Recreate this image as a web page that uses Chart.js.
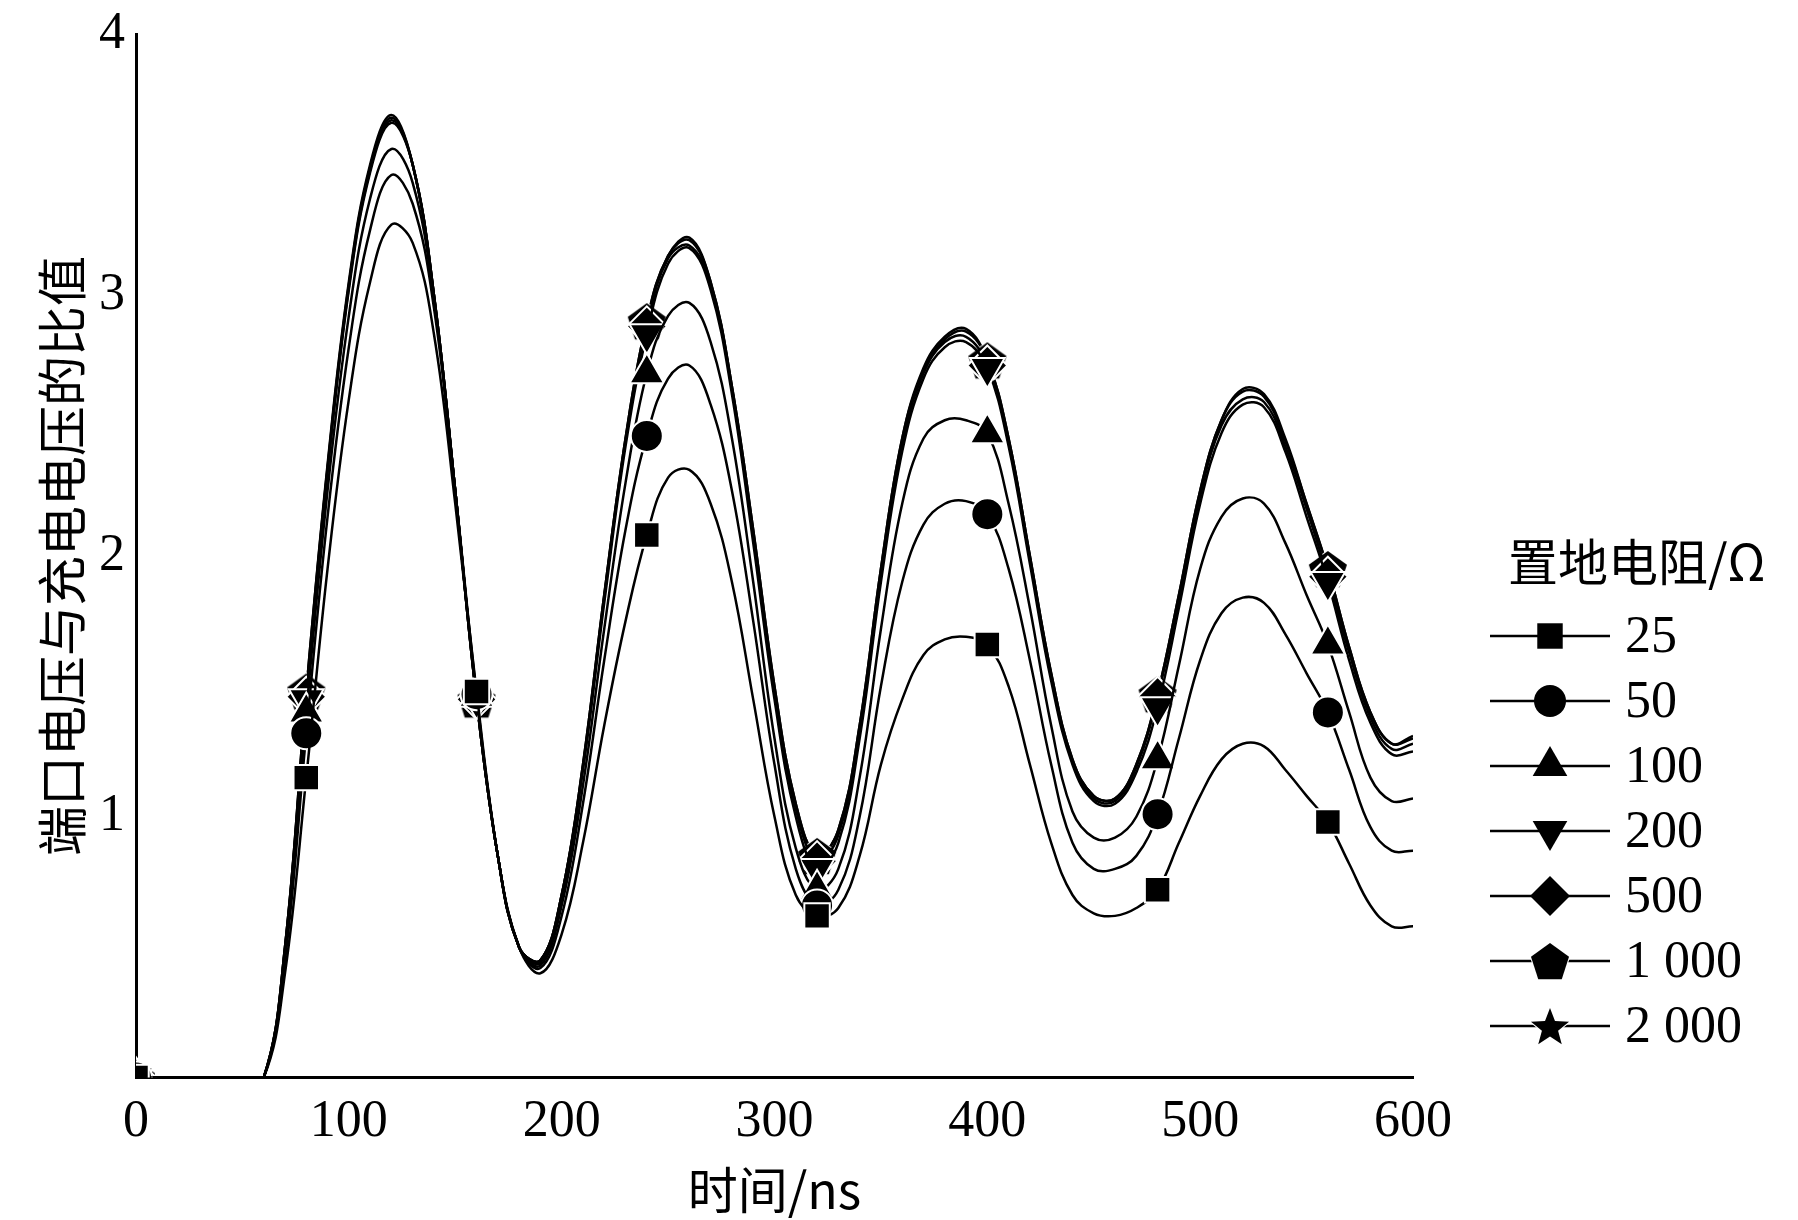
<!DOCTYPE html>
<html><head><meta charset="utf-8">
<script src="https://cdn.jsdelivr.net/npm/chart.js@4/dist/chart.umd.min.js"></script>
<style>html,body{margin:0;background:#fff}#wrap{width:1798px;height:1220px}</style>
</head><body><div id="wrap"><canvas id="c"></canvas></div>
<script>
const times = Array.from({ length: 61 }, (_, i) => i * 10);
const names = [`25`, `50`, `100`, `200`, `500`, `1 000`, `2 000`];

// ratio values every 10 ns, 0..600
const r25 = [0,0,0,0,0,0,0,0.4,1.15,1.95,2.6,3.05,3.27,3.2,2.85,2.2,1.48,0.85,0.5,0.4,0.55,0.9,1.35,1.75,2.08,2.3,2.33,2.2,1.9,1.45,1.0,0.7,0.62,0.65,0.85,1.2,1.45,1.62,1.68,1.69,1.66,1.5,1.2,0.9,0.7,0.63,0.62,0.65,0.72,0.9,1.08,1.22,1.28,1.27,1.18,1.08,0.98,0.82,0.66,0.58,0.58];
const r50 = [0,0,0,0,0,0,0,0.45,1.32,2.15,2.8,3.25,3.46,3.35,2.95,2.25,1.47,0.85,0.5,0.42,0.62,1.05,1.6,2.1,2.46,2.68,2.73,2.58,2.25,1.75,1.2,0.8,0.66,0.72,1.0,1.5,1.9,2.12,2.2,2.21,2.16,1.95,1.6,1.2,0.9,0.8,0.8,0.85,1.01,1.3,1.6,1.78,1.84,1.82,1.7,1.55,1.4,1.18,0.96,0.87,0.87];
const r100 = [0,0,0,0,0,0,0,0.47,1.4,2.25,2.92,3.37,3.56,3.43,2.98,2.25,1.46,0.85,0.5,0.43,0.66,1.12,1.72,2.28,2.7,2.92,2.97,2.82,2.45,1.9,1.3,0.88,0.72,0.8,1.15,1.72,2.2,2.45,2.52,2.52,2.47,2.2,1.8,1.35,1.02,0.92,0.92,1.0,1.22,1.58,1.95,2.15,2.22,2.2,2.05,1.85,1.66,1.4,1.15,1.06,1.07];
const r200 = [0,0,0,0,0,0,0,0.49,1.45,2.32,3.02,3.47,3.66,3.5,3.0,2.25,1.45,0.85,0.5,0.44,0.69,1.18,1.82,2.42,2.85,3.12,3.18,3.02,2.62,2.05,1.45,1.0,0.8,0.9,1.3,1.9,2.4,2.68,2.8,2.82,2.72,2.42,1.97,1.52,1.2,1.06,1.05,1.17,1.42,1.8,2.2,2.47,2.58,2.57,2.4,2.15,1.9,1.6,1.36,1.24,1.25];
const r500 = [0,0,0,0,0,0,0,0.5,1.46,2.33,3.03,3.48,3.67,3.5,3.0,2.25,1.45,0.85,0.5,0.45,0.7,1.19,1.84,2.44,2.88,3.14,3.19,3.04,2.64,2.08,1.48,1.03,0.83,0.93,1.33,1.93,2.43,2.7,2.82,2.84,2.73,2.44,1.99,1.54,1.21,1.07,1.06,1.19,1.46,1.83,2.23,2.5,2.6,2.59,2.42,2.18,1.92,1.63,1.38,1.26,1.28];
const r1000 = [0,0,0,0,0,0,0,0.5,1.48,2.34,3.04,3.49,3.68,3.5,3.0,2.25,1.45,0.85,0.5,0.45,0.7,1.2,1.85,2.45,2.9,3.15,3.21,3.05,2.65,2.1,1.5,1.05,0.85,0.95,1.35,1.95,2.45,2.71,2.83,2.86,2.75,2.45,2.0,1.55,1.22,1.08,1.07,1.2,1.47,1.85,2.25,2.52,2.63,2.61,2.44,2.2,1.95,1.65,1.4,1.28,1.3];
const r2000 = [0,0,0,0,0,0,0,0.5,1.48,2.35,3.05,3.5,3.69,3.5,3.0,2.25,1.45,0.85,0.5,0.45,0.7,1.2,1.85,2.45,2.9,3.15,3.22,3.05,2.65,2.1,1.5,1.05,0.85,0.95,1.35,1.95,2.45,2.72,2.84,2.87,2.75,2.45,2.0,1.55,1.22,1.08,1.07,1.2,1.47,1.85,2.25,2.52,2.64,2.62,2.45,2.2,1.95,1.65,1.4,1.28,1.31];
const series = [r25, r50, r100, r200, r500, r1000, r2000];

function shapeCanvas(kind) {
  const s = 44, cv = document.createElement(`canvas`);
  cv.width = cv.height = s;
  const g = cv.getContext(`2d`);
  const n = kind === `star` ? 10 : 5;
  const R = 20, r = kind === `star` ? 8.5 : 20;
  g.beginPath();
  for (let i = 0; i < n; i++) {
    const a = -Math.PI / 2 + (i * 2 * Math.PI) / n;
    const rad = kind === `star` && i % 2 ? r : R;
    g.lineTo(s / 2 + rad * Math.cos(a), s / 2 + 2 + rad * Math.sin(a));
  }
  g.closePath();
  g.fillStyle = `#000`;
  g.strokeStyle = `#fff`;
  g.lineWidth = 2;
  g.stroke();
  g.fill();
  return cv;
}
const styles = [
  { pointStyle: `rect`, rotation: 0, radius: 18 },
  { pointStyle: `circle`, rotation: 0, radius: 16 },
  { pointStyle: `triangle`, rotation: 0, radius: 20 },
  { pointStyle: `triangle`, rotation: 180, radius: 20 },
  { pointStyle: `rectRot`, rotation: 0, radius: 20 },
  { pointStyle: shapeCanvas(`penta`), rotation: 0, radius: 20 },
  { pointStyle: shapeCanvas(`star`), rotation: 0, radius: 20 },
];

const serif = `"Liberation Serif", "DejaVu Serif", serif`;
const cjk = `"Noto Sans CJK SC", sans-serif`;

const legendPlugin = {
  id: `sideLegend`,
  afterDraw(chart) {
    const ctx = chart.ctx;
    ctx.save();
    ctx.fillStyle = `#000`;
    ctx.textBaseline = `middle`;
    ctx.font = `50px ${cjk}`;
    ctx.fillText(`置地电阻/Ω`, 1508, 562);
    ctx.font = `52px ${serif}`;
    names.forEach((name, i) => {
      const y = 636 + i * 65;
      ctx.strokeStyle = `#000`;
      ctx.lineWidth = 2.5;
      ctx.beginPath();
      ctx.moveTo(1490, y);
      ctx.lineTo(1610, y);
      ctx.stroke();
      const st = styles[i];
      ctx.fillStyle = `#000`;
      Chart.helpers.drawPoint(ctx, { pointStyle: st.pointStyle, rotation: st.rotation, radius: st.radius, borderWidth: 0 }, 1550, y);
      ctx.fillText(name, 1625, y + 2);
    });
    ctx.restore();
  },
};

new Chart(document.getElementById(`c`), {
  type: `line`,
  data: {
    datasets: series.map((vals, i) => ({
      label: names[i],
      data: vals.map((v, j) => ({ x: times[j], y: v })),
      borderColor: `#000`,
      backgroundColor: `#000`,
      borderWidth: 2.5,
      tension: 0.4,
      pointStyle: styles[i].pointStyle,
      rotation: styles[i].rotation,
      pointRadius: (c) => (c.dataIndex % 8 === 0 ? styles[i].radius : 0),
      pointBorderColor: `#fff`,
      pointBorderWidth: 2,
      pointBackgroundColor: `#000`,
    })),
  },
  options: {
    responsive: true,
    maintainAspectRatio: false,
    animation: false,
    layout: { padding: { top: 2, right: 385, left: 28, bottom: 0 } },
    plugins: { legend: { display: false }, tooltip: { enabled: false } },
    scales: {
      x: {
        type: `linear`, min: 0, max: 600,
        grid: { display: false },
        border: { color: `#000`, width: 3 },
        ticks: { stepSize: 100, color: `#000`, font: { size: 52, family: serif }, padding: 6 },
        title: { display: true, text: `时间/ns`, color: `#000`, font: { size: 50, family: cjk }, padding: 0 },
      },
      y: {
        min: 0, max: 4,
        grid: { display: false },
        border: { color: `#000`, width: 3 },
        ticks: { stepSize: 1, color: `#000`, font: { size: 52, family: serif }, callback: (v) => (v === 0 ? `` : v) },
        title: { display: true, text: `端口电压与充电电压的比值`, color: `#000`, font: { size: 50, family: cjk }, padding: 4 },
      },
    },
  },
  plugins: [legendPlugin],
});
</script></body></html>
